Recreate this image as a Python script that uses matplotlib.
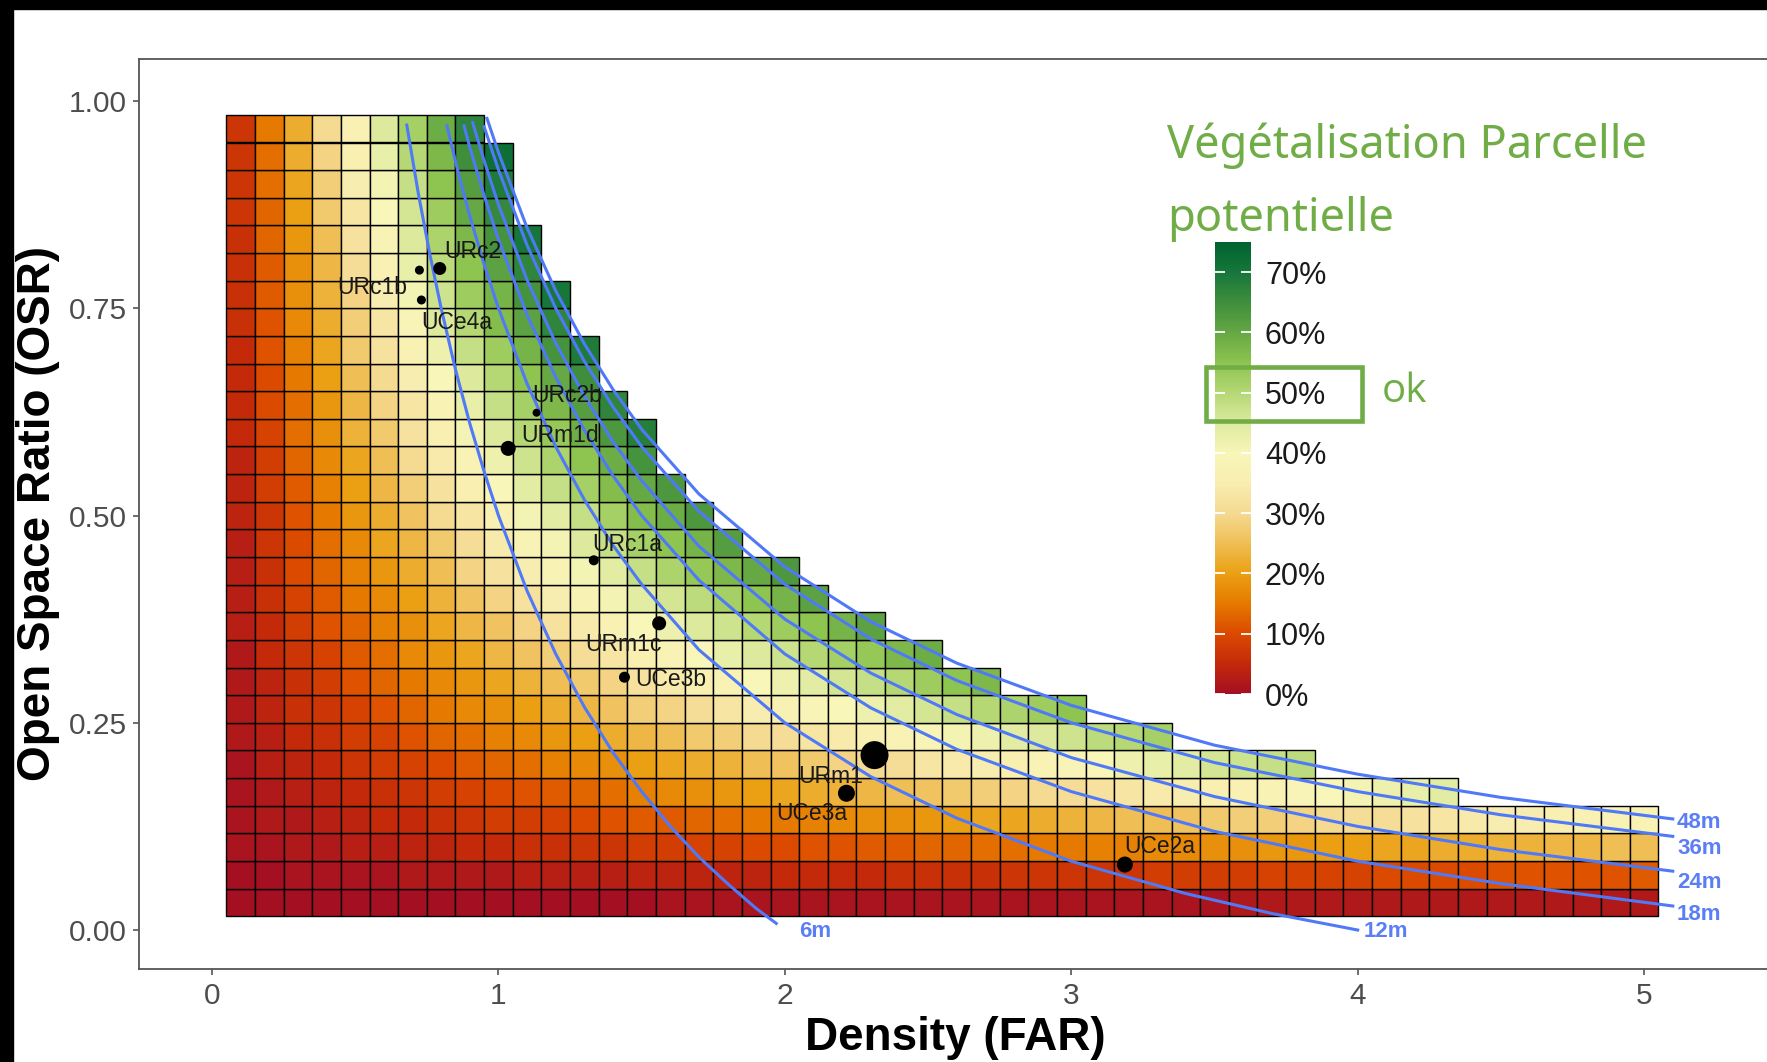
import numpy as np
import matplotlib
matplotlib.use("Agg")
import matplotlib.pyplot as plt
from matplotlib.colors import LinearSegmentedColormap, Normalize
from matplotlib.cm import ScalarMappable
from matplotlib.patches import Rectangle

plt.rcParams['font.family'] = ['Liberation Sans', 'DejaVu Sans']

# FAR columns and OSR rows of the grid
far_cols = [0.1, 0.2, 0.3, 0.4, 0.5, 0.6, 0.7, 0.8, 0.9, 1.0,
            1.1, 1.2, 1.3, 1.4, 1.5, 1.6, 1.7, 1.8, 1.9, 2.0,
            2.1, 2.2, 2.3, 2.4, 2.5, 2.6, 2.7, 2.8, 2.9, 3.0,
            3.1, 3.2, 3.3, 3.4, 3.5, 3.6, 3.7, 3.8, 3.9, 4.0,
            4.1, 4.2, 4.3, 4.4, 4.5, 4.6, 4.7, 4.8, 4.9, 5.0]
osr_rows = [0.0333, 0.0667, 0.1, 0.1333, 0.1667, 0.2, 0.2333, 0.2667, 0.3, 0.3333,
            0.3667, 0.4, 0.4333, 0.4667, 0.5, 0.5333, 0.5667, 0.6, 0.6333, 0.6667,
            0.7, 0.7333, 0.7667, 0.8, 0.8333, 0.8667, 0.9, 0.9333, 0.9667]

# vegetation potential (%), one list per FAR column, lowest OSR row first
veg_pct = [
    [0, 0, 1, 1, 1, 1, 2, 2, 2, 2, 3, 3, 3, 3, 4, 4, 4, 5, 5, 5, 5, 6, 6, 6, 6, 7, 7, 7, 7],
    [0, 0, 1, 2, 2, 3, 3, 4, 4, 5, 5, 6, 6, 7, 7, 8, 8, 9, 10, 10, 11, 11, 12, 12, 13, 13, 14, 14, 15],
    [0, 1, 2, 2, 3, 4, 5, 6, 6, 7, 8, 9, 10, 10, 11, 12, 13, 14, 14, 15, 16, 17, 18, 18, 19, 20, 21, 22, 22],
    [0, 1, 2, 3, 4, 5, 6, 7, 8, 9, 11, 12, 13, 14, 15, 16, 17, 18, 19, 20, 21, 22, 23, 24, 25, 27, 28, 29, 30],
    [0, 1, 3, 4, 5, 7, 8, 9, 11, 12, 13, 15, 16, 17, 19, 20, 21, 23, 24, 25, 27, 28, 29, 31, 32, 33, 35, 36, 37],
    [0, 1, 3, 5, 6, 8, 9, 11, 13, 14, 16, 17, 19, 21, 22, 24, 25, 27, 29, 30, 32, 33, 35, 37, 38, 40, 41, 43, 45],
    [0, 2, 4, 5, 7, 9, 11, 13, 15, 17, 18, 20, 22, 24, 26, 28, 30, 32, 33, 35, 37, 39, 41, 43, 45, 46, 48, 50, 52],
    [0, 2, 4, 6, 8, 10, 13, 15, 17, 19, 21, 23, 25, 27, 30, 32, 34, 36, 38, 40, 42, 45, 47, 49, 51, 53, 55, 57, 59],
    [0, 2, 5, 7, 9, 12, 14, 17, 19, 21, 24, 26, 29, 31, 33, 36, 38, 41, 43, 45, 48, 50, 53, 55, 57, 60, 62, 65, 67],
    [0, 2, 5, 8, 10, 13, 16, 18, 21, 24, 26, 29, 32, 34, 37, 40, 42, 45, 48, 50, 53, 56, 58, 61, 64, 66, 69, 72],
    [0, 3, 6, 8, 11, 14, 17, 20, 23, 26, 29, 32, 35, 38, 41, 44, 47, 50, 52, 55, 58, 61, 64, 67, 70],
    [0, 3, 6, 9, 12, 16, 19, 22, 25, 28, 32, 35, 38, 41, 44, 48, 51, 54, 57, 60, 64, 67, 70],
    [0, 3, 7, 10, 13, 17, 20, 24, 27, 31, 34, 38, 41, 45, 48, 52, 55, 59, 62, 65, 69],
    [0, 3, 7, 11, 14, 18, 22, 26, 29, 33, 37, 41, 44, 48, 52, 56, 59, 63, 67],
    [0, 4, 8, 12, 16, 20, 24, 28, 32, 36, 40, 44, 48, 52, 56, 60, 64, 68],
    [1, 4, 8, 12, 17, 21, 25, 29, 34, 38, 42, 46, 51, 55, 59, 63],
    [1, 4, 9, 13, 18, 22, 27, 31, 36, 40, 45, 49, 54, 58, 63],
    [1, 4, 9, 14, 19, 23, 28, 33, 38, 43, 47, 52, 57, 62],
    [1, 4, 10, 15, 20, 25, 30, 35, 40, 45, 50, 55, 60],
    [1, 5, 10, 15, 21, 26, 31, 37, 42, 47, 53, 58, 63],
    [1, 5, 11, 16, 22, 27, 33, 39, 44, 50, 55, 61],
    [1, 5, 11, 17, 23, 29, 34, 40, 46, 52, 58],
    [1, 5, 12, 18, 24, 30, 36, 42, 48, 54, 61],
    [1, 6, 12, 18, 25, 31, 38, 44, 50, 57],
    [1, 6, 13, 19, 26, 33, 39, 46, 53, 59],
    [1, 6, 13, 20, 27, 34, 41, 48, 55],
    [1, 6, 14, 21, 28, 35, 42, 50, 57],
    [1, 7, 14, 21, 29, 36, 44, 51],
    [1, 7, 15, 22, 30, 38, 45, 53],
    [1, 7, 15, 23, 31, 39, 47, 55],
    [1, 7, 16, 24, 32, 40, 49],
    [1, 7, 16, 25, 33, 42, 50],
    [1, 8, 17, 25, 34, 43, 52],
    [1, 8, 17, 26, 35, 44],
    [1, 8, 18, 27, 36, 46],
    [2, 8, 18, 28, 37, 47],
    [2, 9, 19, 28, 38, 48],
    [2, 9, 19, 29, 39, 49],
    [2, 9, 20, 30, 40],
    [2, 9, 20, 31, 41],
    [2, 10, 21, 31, 42],
    [2, 10, 21, 32, 43],
    [2, 10, 22, 33, 44],
    [2, 10, 22, 34],
    [2, 11, 23, 35],
    [2, 11, 23, 35],
    [2, 11, 24, 36],
    [2, 11, 24, 37],
    [2, 11, 25, 38],
    [2, 12, 25, 38],
]

# building height curves
height_labels = ["6m", "12m", "18m", "24m", "36m", "48m"]
curve_far = [
    [0.68, 0.72, 0.76, 0.80, 0.85, 0.90, 0.95, 1.0, 1.1, 1.2, 1.3, 1.4, 1.5, 1.6, 1.7, 1.8, 1.9, 1.97],
    [0.82, 0.86, 0.90, 0.95, 1.0, 1.1, 1.2, 1.3, 1.4, 1.5, 1.7, 2.0, 2.3, 2.6, 3.0, 3.4, 3.7, 4.0],
    [0.88, 0.90, 0.95, 1.0, 1.1, 1.2, 1.3, 1.4, 1.5, 1.7, 2.0, 2.3, 2.6, 3.0, 3.5, 4.0, 4.5, 5.1],
    [0.91, 0.95, 1.0, 1.1, 1.2, 1.3, 1.4, 1.5, 1.7, 2.0, 2.3, 2.6, 3.0, 3.5, 4.0, 4.5, 5.1],
    [0.95, 1.0, 1.1, 1.2, 1.3, 1.4, 1.5, 1.7, 2.0, 2.3, 2.6, 3.0, 3.5, 4.0, 4.5, 5.1],
    [0.96, 1.0, 1.1, 1.2, 1.3, 1.4, 1.5, 1.7, 2.0, 2.3, 2.6, 3.0, 3.5, 4.0, 4.5, 5.1],
]
curve_osr = [
    [0.971, 0.889, 0.816, 0.750, 0.676, 0.611, 0.553, 0.500, 0.409, 0.333, 0.269, 0.214, 0.167, 0.125, 0.088, 0.056, 0.026, 0.008],
    [0.970, 0.913, 0.861, 0.803, 0.750, 0.659, 0.583, 0.519, 0.464, 0.417, 0.338, 0.250, 0.185, 0.135, 0.083, 0.044, 0.020, 0.000],
    [0.970, 0.944, 0.886, 0.833, 0.742, 0.667, 0.603, 0.548, 0.500, 0.422, 0.333, 0.268, 0.218, 0.167, 0.119, 0.083, 0.056, 0.029],
    [0.974, 0.928, 0.875, 0.784, 0.708, 0.644, 0.589, 0.542, 0.463, 0.375, 0.310, 0.260, 0.208, 0.161, 0.125, 0.097, 0.071],
    [0.969, 0.917, 0.826, 0.750, 0.686, 0.631, 0.583, 0.505, 0.417, 0.351, 0.301, 0.250, 0.202, 0.167, 0.139, 0.113],
    [0.979, 0.938, 0.847, 0.771, 0.707, 0.652, 0.604, 0.526, 0.438, 0.372, 0.322, 0.271, 0.223, 0.188, 0.160, 0.134],
]
curve_label_xy = [(2.05, -0.002), (4.02, -0.002), (5.115, 0.019), (5.115, 0.057), (5.115, 0.098), (5.115, 0.130)]

# sites
sites = ["URc2", "URc1b", "UCe4a", "URc2b", "URm1d", "URc1a", "URm1c", "UCe3b", "URm1", "UCe3a", "UCe2a"]
site_far = [0.795, 0.724, 0.731, 1.133, 1.034, 1.333, 1.561, 1.440, 2.313, 2.215, 3.187]
site_osr = [0.798, 0.796, 0.760, 0.624, 0.581, 0.446, 0.370, 0.305, 0.211, 0.165, 0.079]
dot_size = [87, 42, 42, 33, 117, 52, 102, 63, 406, 150, 133]
label_xy = [(0.912, 0.819), (0.558, 0.775), (0.853, 0.733), (1.239, 0.645), (1.215, 0.597),
            (1.448, 0.465), (1.436, 0.344), (1.601, 0.302), (2.160, 0.185), (2.093, 0.140), (3.309, 0.101)]

# colour scale
cb_ticks = [0, 10, 20, 30, 40, 50, 60, 70]
scale_colors = ["#A50F22", "#C42A0A", "#DC4A00", "#E67A00", "#EAA012", "#EFBE55", "#F5DA92", "#F8EDB0",
                "#F8F6B8", "#DDEA9E", "#B5D875", "#8EC450", "#66A844", "#3F8E3C", "#17773A", "#006430"]
cmap = LinearSegmentedColormap.from_list("veg", scale_colors)
norm = Normalize(0, 75)

W, H = 1767, 1062
fig = plt.figure(figsize=(W / 100, H / 100), dpi=100)
fig.patch.set_facecolor("white")

ax = fig.add_axes([139 / W, (H - 969) / H, (1771 - 139) / W, (969 - 59) / H])
ax.set_xlim(-0.255, 5.443)
ax.set_ylim(-0.047, 1.0507)

TILE_W, TILE_H = 0.1, 1 / 30
xs, ys, vs = [], [], []
for x, col in zip(far_cols, veg_pct):
    for y, v in zip(osr_rows, col):
        xs.append(x)
        ys.append(y)
        vs.append(v)
ax.bar(xs, TILE_H, width=TILE_W, bottom=np.array(ys) - TILE_H / 2,
       color=cmap(norm(np.array(vs))), edgecolor="black", linewidth=1.0, zorder=1)

line_col = "#5079F7"
for fx, fy, lab, (lx, ly) in zip(curve_far, curve_osr, height_labels, curve_label_xy):
    ax.plot(fx, fy, color=line_col, lw=2.2, zorder=3)
    ax.text(lx, ly, lab, color="#5B7EF7", fontsize=16, fontweight="bold", ha="left", va="center", zorder=6)

ax.scatter(site_far, site_osr, s=dot_size, color="black", linewidths=0, zorder=4)
for name, (lx, ly) in zip(sites, label_xy):
    ax.text(lx, ly, name, fontsize=16.5, color="#1A1A1A", ha="center", va="center", zorder=5)

ax.set_xticks([0, 1, 2, 3, 4, 5])
ax.set_yticks([0, 0.25, 0.5, 0.75, 1.0])
ax.set_yticklabels(["0.00", "0.25", "0.50", "0.75", "1.00"])
ax.tick_params(length=4, width=1.2, color="#555555", labelcolor="#4D4D4D", labelsize=21.5, pad=5)
for s in ax.spines.values():
    s.set_color("#555555")
    s.set_linewidth(1.3)

fig.text(955 / W, 1 - 1050 / H, "Density (FAR)", fontsize=33, fontweight="bold", ha="center", va="baseline")
fig.text(38 / W, 1 - 514 / H, "Open Space Ratio (OSR)", fontsize=33, fontweight="bold",
         rotation=90, ha="center", va="center")

# colour bar
cax = fig.add_axes([1215 / W, (H - 694) / H, 36 / W, (694 - 242) / H])
cb = fig.colorbar(ScalarMappable(norm=norm, cmap=cmap), cax=cax)
cb.outline.set_visible(False)
cb.set_ticks(cb_ticks)
cb.set_ticklabels([f"{t}%" for t in cb_ticks])
cax.yaxis.set_ticks_position("both")
cax.tick_params(direction="in", length=7, width=1.3, color="white", labelcolor="#1A1A1A",
                labelsize=22, labelleft=False, labelright=True, pad=10)

green = "#70AD47"
title_font = ["Noto Sans", "DejaVu Sans"]
fig.text(1167 / W, 1 - 158 / H, "Végétalisation Parcelle", family=title_font, fontsize=32.5,
         color=green, ha="left", va="baseline")
fig.text(1167 / W, 1 - 231 / H, "potentielle", family=title_font, fontsize=32.5,
         color=green, ha="left", va="baseline")
fig.add_artist(Rectangle((1206 / W, (H - 421) / H), 156 / W, 54 / H, transform=fig.transFigure,
                         fill=False, edgecolor=green, linewidth=3.3))
fig.text(1382 / W, 1 - 392 / H, "ok", family=["Open Sans", "DejaVu Sans"], fontsize=29,
         color=green, ha="left", va="center")

# black frame bands
fig.add_artist(Rectangle((0, 1 - 9 / H), 1, 9 / H, transform=fig.transFigure, color="black", zorder=10))
fig.add_artist(Rectangle((0, 0), 13 / W, 1, transform=fig.transFigure, color="black", zorder=10))

fig.savefig("out.png", dpi=100)
